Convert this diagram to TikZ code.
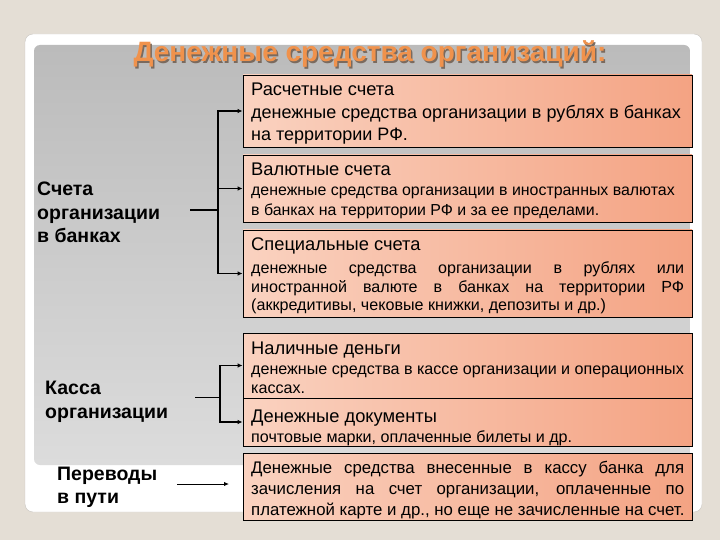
\documentclass[tikz,border=0pt]{standalone}
\usepackage{fontspec}
\setmainfont{Liberation Sans}
\usetikzlibrary{arrows.meta}
\definecolor{bgc}{HTML}{E4DED5}
\definecolor{framec}{HTML}{C9C6C1}
\definecolor{paneltop}{HTML}{BBBBBB}
\definecolor{panelbot}{HTML}{DCDCDC}
\definecolor{boxl}{HTML}{FAD2C0}
\definecolor{boxr}{HTML}{F4A383}
\definecolor{titlec}{HTML}{F0924C}
\definecolor{titlesh}{HTML}{7A6A5E}
\begin{document}
\begin{tikzpicture}[x=1pt,y=-1pt,
  box/.style={draw=black, line width=0.8pt, left color=boxl, right color=boxr,
    inner sep=0pt, minimum width=449pt},
  head/.style={anchor=base west, inner sep=0pt, font=\fontsize{18.3}{21}\selectfont},
  desc/.style={anchor=base west, inner sep=0pt, font=\fontsize{16.1}{19}\selectfont},
  lab/.style={anchor=base west, inner sep=0pt, font=\fontsize{19.5}{22}\selectfont\bfseries},
  conn/.style={line width=1.6pt},
  thinconn/.style={line width=1pt},
  arr/.style={-{Latex[length=5pt,width=4.5pt]}}
]
\useasboundingbox (0,0) rectangle (720,540);
\fill[bgc] (0,0) rectangle (720,540);
\draw[framec, fill=white, rounded corners=8pt] (25,34) rectangle (702,512);
\shade[top color=paneltop, bottom color=panelbot, rounded corners=6pt] (34,45) rectangle (690,465);

% title
\node[anchor=base, inner sep=0pt, font=\fontsize{28}{31}\selectfont\bfseries, text=titlesh] (tsh) at (371.5,63.5) {Денежные средства организаций:};
\node[anchor=base, inner sep=0pt, font=\fontsize{28}{31}\selectfont\bfseries, text=titlec] (title) at (370,62) {Денежные средства организаций:};

% boxes
\node[box, minimum height=72pt] (b1) at (467.5,111) {};
\node[box, minimum height=67pt] (b2) at (467.5,188.5) {};
\node[box, minimum height=87pt] (b3) at (467.5,273.5) {};
\node[box, minimum height=65pt] (b4) at (467.5,365.5) {};
\node[box, minimum height=48pt] (b5) at (467.5,422) {};
\node[box, minimum height=67pt] (b6) at (467.5,486.5) {};

% box texts
\node[head] (h1) at (251,96) {Расчетные счета};
\node[desc, font=\fontsize{18}{21}\selectfont] (d1a) at (251,119) {денежные средства организации в рублях в банках};
\node[desc, font=\fontsize{18}{21}\selectfont] (d1b) at (251,141) {на территории РФ.};

\node[head] (h2) at (251,176) {Валютные счета};
\node[desc, font=\fontsize{15.9}{19}\selectfont] (d2a) at (251,196) {денежные средства организации в иностранных валютах};
\node[desc, font=\fontsize{15.9}{19}\selectfont] (d2b) at (251,215) {в банках на территории РФ и за ее пределами.};

\node[head] (h3) at (251,251) {Специальные счета};
\node[desc] (d3a) at (251,273) {\makebox[433pt][s]{денежные средства организации в рублях или}};
\node[desc] (d3b) at (251,292) {\makebox[433pt][s]{иностранной валюте в банках на территории РФ}};
\node[desc] (d3c) at (251,310) {(аккредитивы, чековые книжки, депозиты и др.)};

\node[head] (h4) at (251,354) {Наличные деньги};
\node[desc] (d4a) at (251,374) {денежные средства в кассе организации и операционных};
\node[desc] (d4b) at (251,393) {кассах.};

\node[head] (h5) at (251,422) {Денежные документы};
\node[desc] (d5a) at (251,442) {почтовые марки, оплаченные билеты и др.};

\node[desc, font=\fontsize{16.8}{20}\selectfont] (d6a) at (251,473) {\makebox[433pt][s]{Денежные средства внесенные в кассу банка для}};
\node[desc, font=\fontsize{16.8}{20}\selectfont] (d6b) at (251,494) {\makebox[433pt][s]{зачисления на счет организации, оплаченные по}};
\node[desc, font=\fontsize{16.8}{20}\selectfont] (d6c) at (251,515) {платежной карте и др., но еще не зачисленные на счет.};

% left labels
\node[lab] (l1a) at (37,196) {Счета};
\node[lab] (l1b) at (37,219) {организации};
\node[lab] (l1c) at (37,243) {в банках};
\node[lab] (l2a) at (45,394) {Касса};
\node[lab] (l2b) at (45,418) {организации};
\node[lab] (l3a) at (57,480) {Переводы};
\node[lab] (l3b) at (57,503) {в пути};

% connectors
\coordinate (s1) at (190,210);
\coordinate (j1) at (218,210);
\draw[conn] (s1) -- (j1);
\draw[conn, arr] (j1) |- (b1.west);
\draw[conn, arr] (j1) |- (b2.west);
\draw[conn, arr] (j1) |- (b3.west);

\coordinate (s2) at (195,397);
\coordinate (j2) at (220,397);
\draw[thinconn] (s2) -- (j2);
\draw[conn, arr] (j2) |- (b4.west);
\draw[conn, arr] (j2) |- (b5.west);

\coordinate (s3) at (177,484);
\coordinate (e3) at (229,484);
\draw[thinconn, arr] (s3) -- (e3);
\end{tikzpicture}
\end{document}
